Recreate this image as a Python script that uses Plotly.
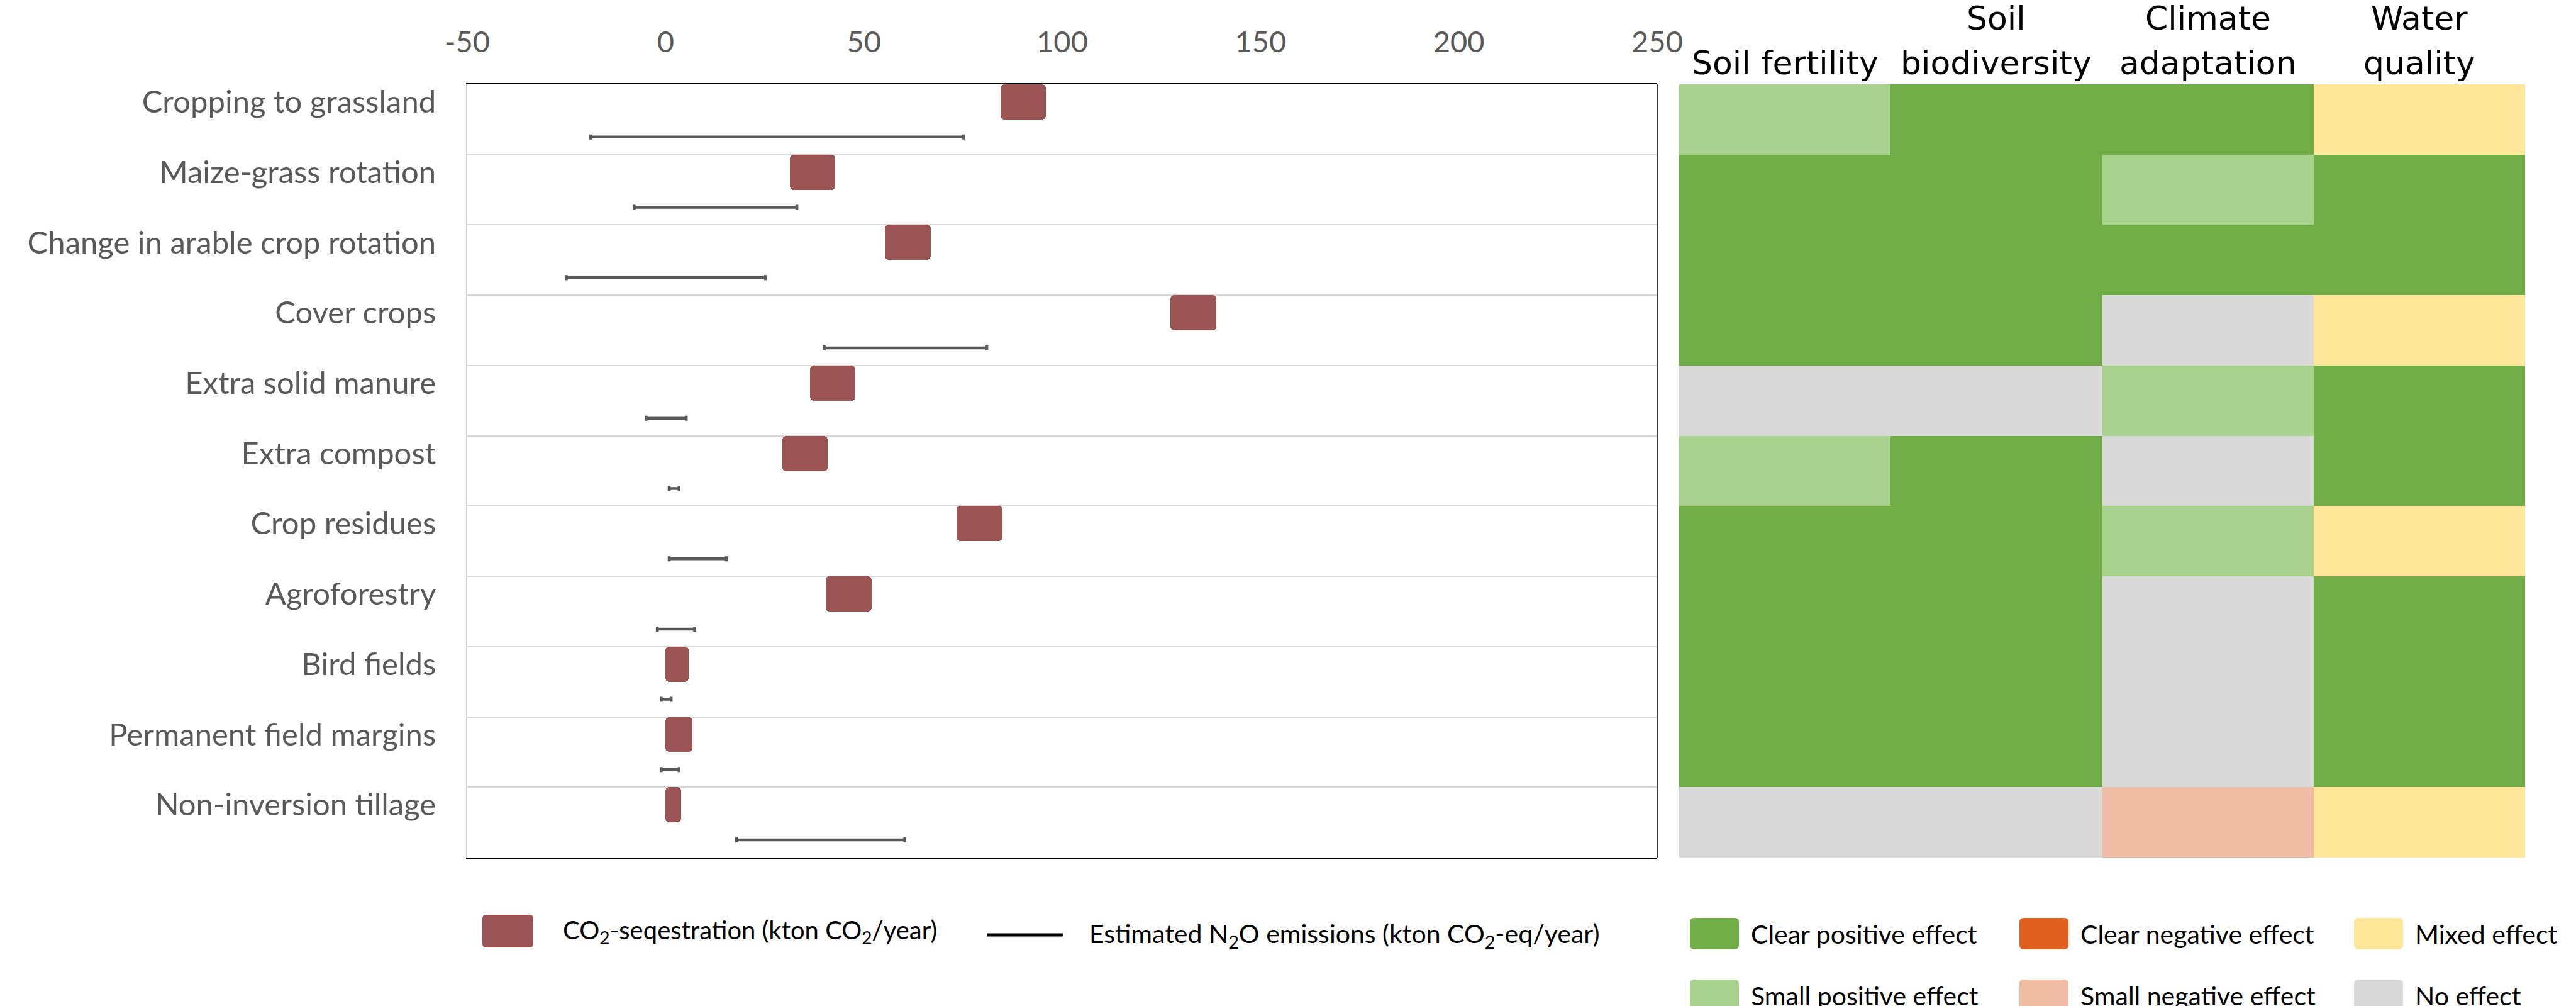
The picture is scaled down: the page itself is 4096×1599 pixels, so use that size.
import plotly.graph_objects as go

# ---------------- data ----------------
categories = ["Cropping to grassland", "Maize-grass rotation", "Change in arable crop rotation",
              "Cover crops", "Extra solid manure", "Extra compost", "Crop residues", "Agroforestry",
              "Bird fields", "Permanent field margins", "Non-inversion tillage"]
co2_low = [84.4, 31.4, 55.3, 127.3, 36.4, 29.4, 73.4, 40.4, 0.0, 0.0, 0.0]
co2_high = [95.8, 42.8, 66.8, 138.8, 47.8, 40.8, 84.9, 51.9, 5.8, 6.8, 3.9]
n2o_low = [-18.9, -7.9, -25.0, 40.0, -4.9, 0.9, 0.9, -2.1, -1.1, -1.1, 17.9]
n2o_high = [75.1, 33.1, 25.2, 81.0, 5.2, 3.4, 15.3, 7.3, 1.4, 3.4, 60.3]
x_ticks = [-50, 0, 50, 100, 150, 200, 250]

effect_header_line1 = ["", "Soil", "Climate", "Water"]
effect_header_line2 = ["Soil fertility", "biodiversity", "adaptation", "quality"]
soil_fertility = ["small+", "clear+", "clear+", "clear+", "none", "small+", "clear+", "clear+", "clear+", "clear+", "none"]
soil_biodiversity = ["clear+", "clear+", "clear+", "clear+", "none", "clear+", "clear+", "clear+", "clear+", "clear+", "none"]
climate_adaptation = ["clear+", "small+", "clear+", "none", "small+", "none", "small+", "none", "none", "none", "small-"]
water_quality = ["mixed", "clear+", "clear+", "mixed", "clear+", "clear+", "mixed", "clear+", "clear+", "clear+", "mixed"]

effect_keys = ["clear+", "small+", "mixed", "none", "small-", "clear-"]
effect_labels = ["Clear positive effect", "Small positive effect", "Mixed effect", "No effect",
                 "Small negative effect", "Clear negative effect"]
effect_colors = ["#70AD47", "#A9D18E", "#FFE699", "#D9D9D9", "#F1BCA5", "#E0601F"]

W, H = 4096, 1599
LABEL_FONT = "Lato"
HEAD_FONT = "DejaVu Sans"

def px(x):
    return x / W

def py(y):
    return 1 - y / H

fig = go.Figure()

n = len(categories)
bar_y = [i + 0.25 for i in range(n)]
err_y = [i + 0.75 for i in range(n)]

# CO2 sequestration floating bars
fig.add_trace(go.Bar(
    y=bar_y, x=[h - l for l, h in zip(co2_low, co2_high)], base=co2_low,
    orientation="h", width=0.5, marker=dict(color="#9B5454", cornerradius=6, line=dict(width=0)),
    xaxis="x", yaxis="y", showlegend=False, hoverinfo="skip"))

# N2O ranges as error bars
mid = [(l + h) / 2 for l, h in zip(n2o_low, n2o_high)]
fig.add_trace(go.Scatter(
    x=mid, y=err_y, mode="markers", marker=dict(size=1, opacity=0),
    error_x=dict(type="data", symmetric=False,
                 array=[h - m for h, m in zip(n2o_high, mid)],
                 arrayminus=[m - l for m, l in zip(mid, n2o_low)],
                 color="#595959", thickness=4.5, width=4),
    xaxis="x", yaxis="y", showlegend=False, hoverinfo="skip"))

# Heatmap
columns = [soil_fertility, soil_biodiversity, climate_adaptation, water_quality]
z = [[effect_keys.index(columns[c][r]) for c in range(4)] for r in range(n)]
nk = len(effect_keys)
cs = []
for k, col in enumerate(effect_colors):
    lo = max(0, (k - 0.5) / (nk - 1))
    hi = min(1, (k + 0.5) / (nk - 1))
    cs.append([lo, col])
    cs.append([hi, col])
fig.add_trace(go.Heatmap(
    z=z, x=[0, 1, 2, 3], y=[i + 0.5 for i in range(n)], zmin=0, zmax=nk - 1,
    colorscale=cs, showscale=False, xgap=0, ygap=0, hoverinfo="skip",
    xaxis="x2", yaxis="y2"))

plot_x0, plot_x1 = 743, 2635
hm_x0, hm_x1 = 2670, 4015
top, bottom = 134, 1363

fig.update_layout(
    template="none",
    width=W, height=H, margin=dict(l=0, r=0, t=0, b=0, pad=0, autoexpand=False),
    paper_bgcolor="white", plot_bgcolor="white", bargap=0, showlegend=False,
    xaxis=dict(domain=[px(plot_x0), px(plot_x1)], range=[-50, 250], side="top",
               tickvals=x_ticks, ticktext=[str(t) for t in x_ticks], automargin=False,
               showgrid=False, zeroline=False, showline=True, linecolor="black", linewidth=2,
               mirror=True, ticks="", ticklabelstandoff=30,
               tickfont=dict(family=LABEL_FONT, size=47, color="#595959")),
    yaxis=dict(domain=[py(bottom), py(top)], range=[n, 0], tickvals=bar_y, ticktext=categories,
               automargin=False,
               showgrid=False, zeroline=False, showline=True, linecolor="#D0D0D0", linewidth=2,
               ticks="", ticklabelstandoff=38,
               tickfont=dict(family=LABEL_FONT, size=49, color="#595959"),
               minor=dict(tickvals=list(range(1, n)), showgrid=True, gridcolor="#D9D9D9",
                          gridwidth=2, ticks="")),
    xaxis2=dict(domain=[px(hm_x0), px(hm_x1)], range=[-0.5, 3.5], visible=False, automargin=False),
    yaxis2=dict(domain=[py(bottom), py(top)], range=[n, 0], visible=False, anchor="x2",
                automargin=False),
)

shapes = []
# right border of the plot area
shapes.append(dict(type="line", xref="x domain", yref="y domain", x0=1, x1=1, y0=0, y1=1,
                   line=dict(color="#404040", width=2)))

annotations = []
# heatmap headers
for c in range(4):
    if effect_header_line1[c]:
        annotations.append(dict(x=c, y=py(29), xref="x2", yref="paper", text=effect_header_line1[c],
                                showarrow=False, xanchor="center", yanchor="middle",
                                font=dict(family=HEAD_FONT, size=52, color="black")))
    annotations.append(dict(x=c, y=py(100), xref="x2", yref="paper", text=effect_header_line2[c],
                            showarrow=False, xanchor="center", yanchor="middle",
                            font=dict(family=HEAD_FONT, size=52, color="black")))

def rrect(x0, y0, x1, y1, r):
    # rounded rect path in paper coords, input pixel coords
    def P(x, y):
        return f"{px(x):.6f},{py(y):.6f}"
    return (f"M {P(x0 + r, y0)} L {P(x1 - r, y0)} Q {P(x1, y0)} {P(x1, y0 + r)} "
            f"L {P(x1, y1 - r)} Q {P(x1, y1)} {P(x1 - r, y1)} L {P(x0 + r, y1)} "
            f"Q {P(x0, y1)} {P(x0, y1 - r)} L {P(x0, y0 + r)} Q {P(x0, y0)} {P(x0 + r, y0)} Z")

LEG_SIZE = 41
# main legend
shapes.append(dict(type="path", xref="paper", yref="paper", path=rrect(767, 1454, 848, 1506, 6),
                   fillcolor="#9B5454", line=dict(width=0)))
annotations.append(dict(x=px(893), y=py(1480), xref="paper", yref="paper",
                        text="CO<sub>2</sub>-seqestration (kton CO<sub>2</sub>/year)",
                        showarrow=False, xanchor="left", yanchor="middle",
                        font=dict(family=LABEL_FONT, size=LEG_SIZE - 1, color="black")))
shapes.append(dict(type="line", xref="paper", yref="paper", x0=px(1569), x1=px(1690),
                   y0=py(1486), y1=py(1486), line=dict(color="black", width=5)))
annotations.append(dict(x=px(1730), y=py(1486), xref="paper", yref="paper",
                        text="Estimated N<sub>2</sub>O emissions (kton CO<sub>2</sub>-eq/year)",
                        showarrow=False, xanchor="left", yanchor="middle",
                        font=dict(family=LABEL_FONT, size=LEG_SIZE, color="black")))

# effect legend
legend_order = [["clear+", "clear-", "mixed"], ["small+", "small-", "none"]]
col_x = [2687, 3211, 3743]
row_y = [1484, 1582]
for r, row in enumerate(legend_order):
    for c, key in enumerate(row):
        k = effect_keys.index(key)
        x0 = col_x[c]
        yc = row_y[r]
        shapes.append(dict(type="path", xref="paper", yref="paper",
                           path=rrect(x0, yc - 25, x0 + 78, yc + 25, 7),
                           fillcolor=effect_colors[k], line=dict(width=0)))
        annotations.append(dict(x=px(x0 + 95), y=py(yc), xref="paper", yref="paper",
                                text=effect_labels[k], showarrow=False, xanchor="left",
                                yanchor="middle",
                                font=dict(family=LABEL_FONT, size=LEG_SIZE, color="black")))

fig.update_layout(shapes=shapes, annotations=annotations)
fig.write_html("out.html", config={"displayModeBar": False},
               post_script="document.body.style.margin='0';")
